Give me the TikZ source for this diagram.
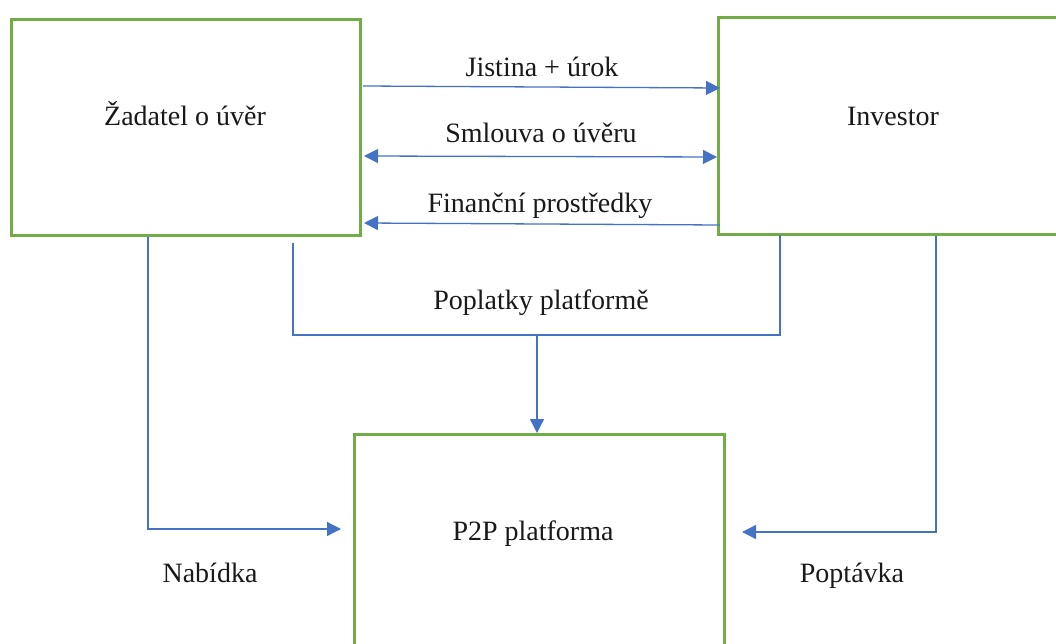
\documentclass[tikz,border=0pt]{standalone}
\usepackage{fontspec}
\setmainfont{Liberation Serif}
\usetikzlibrary{arrows.meta,calc}
\definecolor{boxgreen}{HTML}{70AD47}
\definecolor{lineblue}{HTML}{4472C4}
\begin{document}
\begin{tikzpicture}[x=1pt,y=-1pt,
  box/.style={draw=boxgreen,line width=3pt,fill=white,inner sep=0pt,anchor=north west},
  conn/.style={draw=lineblue,line width=1.3pt},
  arr/.style={conn,-{Triangle[length=14pt,width=14pt]}},
  darr/.style={conn,{Triangle[length=14pt,width=14pt]}-{Triangle[length=14pt,width=14pt]}},
  lbl/.style={font=\fontsize{28}{32}\selectfont,anchor=base,inner sep=0pt,text=black!90}]
\useasboundingbox (0,0) rectangle (1056,644);
\fill[white] (0,0) rectangle (1056,644);
\begin{scope}
\clip (0,0) rectangle (1056,644);
\node[box,minimum width=349pt,minimum height=216pt] (A) at (10,18) {};
\node[box,minimum width=370pt,minimum height=217pt] (B) at (717,16) {};
\node[box,minimum width=370pt,minimum height=240pt] (C) at (353,433) {};
\end{scope}
% box texts
\node[lbl] (nA) at (185,126) {Žadatel o úvěr};
\node[lbl] (nB) at (893,126) {Investor};
\node[lbl] (nC) at (533,540) {P2P platforma};
% horizontal connectors
\draw[arr] ($(A.north east)+(1,68)$) -- ($(B.north west)+(3,72)$);
\draw[darr] ($(A.north east)+(2,138)$) -- ($(B.north west)+(0,141)$);
\draw[arr] ($(B.north west)+(3,209)$) -- ($(A.north east)+(2,205)$);
% side connectors
\draw[arr] ($(A.south west)+(138,0)$) |- ($(C.north west)+(-12,96)$);
\draw[arr] ($(B.south west)+(219,0)$) |- ($(C.north east)+(16,99)$);
% fee connector
\coordinate (fl) at ($(A.south west)+(283,6)$);
\coordinate (fr) at ($(B.south west)+(63,-1)$);
\coordinate (fee) at (537,335);
\draw[conn] (fl) |- (fee) -| (fr);
\draw[arr] (fee) -- (fee |- C.north);
% labels
\node[lbl] (t1) at (542,77) {Jistina + úrok};
\node[lbl] (t2) at (541,143) {Smlouva o úvěru};
\node[lbl] (t3) at (540,213) {Finanční prostředky};
\node[lbl] (t4) at (541,309) {Poplatky platformě};
\node[lbl] (t5) at (210,582) {Nabídka};
\node[lbl] (t6) at (852,582) {Poptávka};
\end{tikzpicture}
\end{document}
